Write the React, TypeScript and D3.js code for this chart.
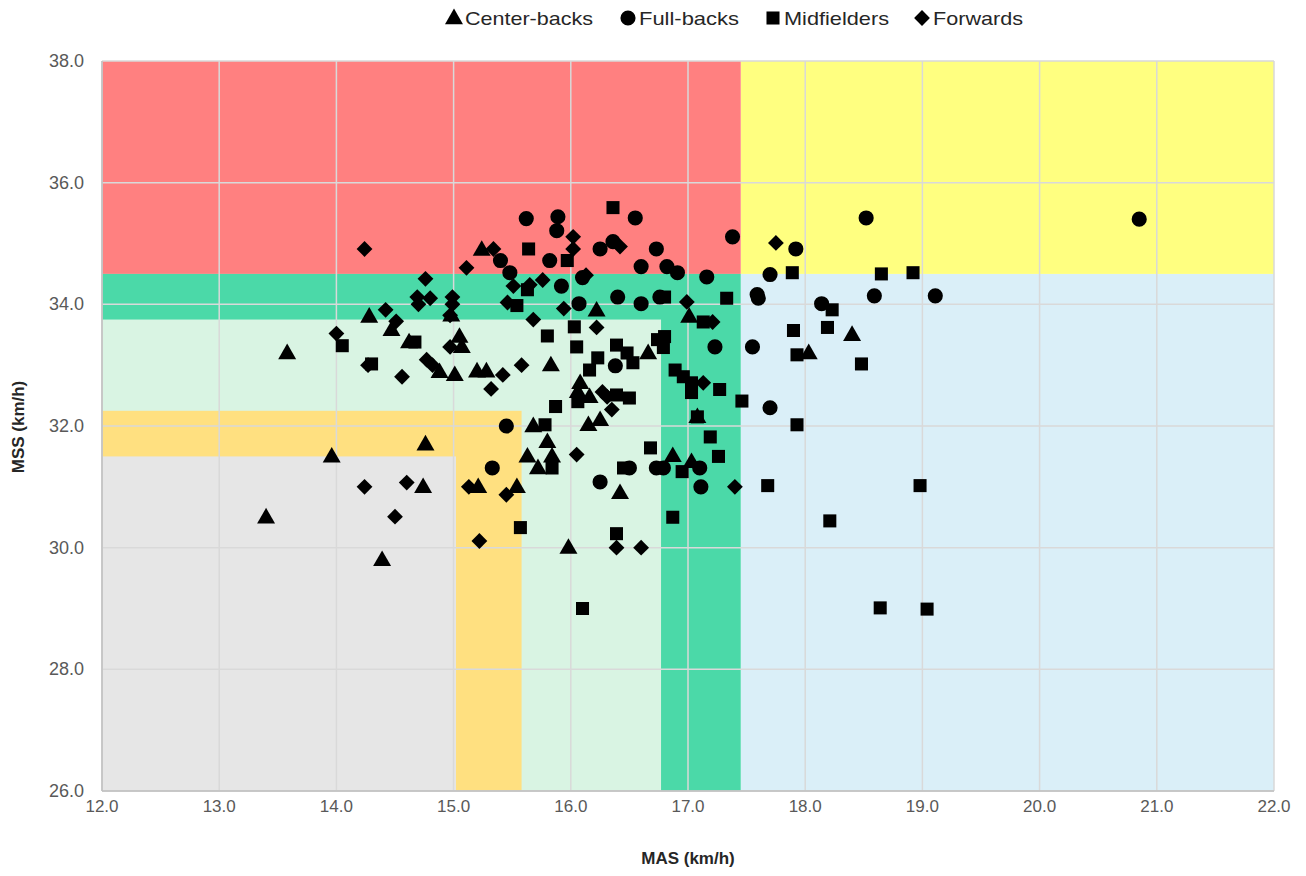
import React from 'react';
import * as d3 from 'd3';

// MAS / MSS values
const centerBacks: [number, number][] = [
  [13.4, 30.5], [13.58, 33.2], [13.96, 31.5], [14.39, 29.8], [14.28, 33.8], [14.47, 33.58],
  [14.76, 31.7], [14.74, 31.0], [14.98, 33.82], [14.62, 33.38], [15.05, 33.47], [15.07, 33.3],
  [14.88, 32.89], [15.01, 32.84], [15.2, 32.9], [15.28, 32.9], [15.24, 34.9], [15.83, 33.0],
  [16.22, 33.9], [15.68, 32.0], [15.8, 31.74], [15.63, 31.5], [15.84, 31.5], [15.72, 31.31],
  [15.21, 31.0], [15.54, 31.0], [15.98, 30.0], [16.08, 32.71], [16.06, 32.56], [16.16, 32.48],
  [16.15, 32.02], [16.25, 32.1], [16.42, 30.9], [16.66, 33.2], [17.01, 33.8], [17.08, 32.15],
  [16.87, 31.51], [17.03, 31.41], [18.03, 33.2], [18.4, 33.5],
];

const fullBacks: [number, number][] = [
  [15.62, 35.41], [15.89, 35.44], [15.88, 35.21], [16.55, 35.42], [16.25, 34.91], [16.36, 35.03],
  [16.73, 34.91], [15.4, 34.72], [15.82, 34.72], [16.6, 34.62], [16.82, 34.62], [16.91, 34.52],
  [15.48, 34.52], [16.1, 34.44], [17.16, 34.45], [17.38, 35.11], [15.92, 34.3], [16.07, 34.01],
  [16.4, 34.12], [16.6, 34.01], [16.76, 34.12], [17.23, 33.3], [17.55, 33.3], [17.59, 34.16],
  [17.6, 34.1], [17.7, 34.49], [17.92, 34.91], [18.52, 35.42], [18.59, 34.14], [19.11, 34.14],
  [18.14, 34.01], [17.7, 32.3], [20.85, 35.4], [15.45, 32.0], [15.33, 31.31], [16.25, 31.08],
  [16.5, 31.31], [16.73, 31.31], [16.79, 31.31], [17.1, 31.31], [17.11, 31.0], [16.38, 32.99],
];

const midfielders: [number, number][] = [
  [16.36, 35.59], [15.64, 34.91], [15.97, 34.72], [15.63, 34.24], [15.54, 33.98], [15.8, 33.48],
  [16.03, 33.63], [16.05, 33.3], [14.05, 33.32], [14.67, 33.38], [14.3, 33.02], [16.8, 34.12],
  [17.33, 34.1], [16.16, 32.92], [16.23, 33.12], [16.39, 33.33], [16.48, 33.2], [16.53, 33.04],
  [16.74, 33.42], [16.8, 33.47], [16.79, 33.29], [17.13, 33.71], [16.89, 32.92], [16.96, 32.81],
  [17.03, 32.71], [17.03, 32.55], [17.27, 32.6], [17.46, 32.41], [16.06, 32.4], [16.39, 32.51],
  [16.5, 32.46], [15.87, 32.32], [15.78, 32.02], [17.08, 32.15], [17.19, 31.82], [17.26, 31.5],
  [16.68, 31.64], [15.84, 31.31], [15.57, 30.33], [16.45, 31.31], [16.95, 31.25], [16.87, 30.5],
  [16.39, 30.23], [16.1, 29.0], [17.89, 34.52], [18.65, 34.5], [18.92, 34.52], [18.23, 33.91],
  [17.9, 33.57], [18.19, 33.62], [17.93, 33.17], [18.48, 33.02], [17.93, 32.02], [17.68, 31.02],
  [18.98, 31.02], [18.21, 30.44], [18.64, 29.01], [19.04, 28.99],
];

const forwards: [number, number][] = [
  [14.24, 34.91], [15.34, 34.91], [16.02, 35.11], [16.02, 34.91], [16.42, 34.95], [15.11, 34.6],
  [16.13, 34.48], [14.76, 34.42], [14.69, 34.12], [14.8, 34.1], [14.7, 34.0], [14.99, 34.12],
  [14.99, 34.0], [14.97, 33.82], [15.51, 34.3], [15.65, 34.32], [15.76, 34.4], [15.46, 34.03],
  [15.94, 33.93], [16.22, 33.62], [15.68, 33.75], [14.42, 33.91], [14.51, 33.72], [14.0, 33.52],
  [14.97, 33.3], [14.27, 33.0], [14.77, 33.09], [14.82, 33.0], [14.56, 32.81], [15.42, 32.84],
  [15.32, 32.61], [15.58, 33.0], [16.99, 34.04], [17.21, 33.71], [17.13, 32.71], [16.27, 32.56],
  [16.31, 32.48], [16.35, 32.27], [16.05, 31.53], [14.24, 31.0], [14.6, 31.07], [14.5, 30.51],
  [15.13, 31.0], [15.45, 30.87], [15.22, 30.11], [16.39, 30.0], [16.6, 30.0], [17.4, 31.0],
  [17.75, 35.01],
];

// background zones: [x0, x1, y0, y1, colour], drawn outermost first
const zones: [number, number, number, number, string][] = [
  [17.45, 22, 26, 34.5, '#daeff8'],
  [17.45, 22, 34.5, 38, '#ffff80'],
  [12, 17.45, 34.5, 38, '#ff8080'],
  [12, 17.45, 26, 34.5, '#4bd9a8'],
  [12, 16.77, 26, 33.75, '#d9f4e3'],
  [12, 15.58, 26, 32.25, '#ffe080'],
  [12, 15.02, 26, 31.5, '#e6e6e6'],
];

const xTicks = d3.range(12, 22.01, 1);
const yTicks = d3.range(26, 38.01, 2);

const series = [
  { name: 'Center-backs', data: centerBacks, shape: 'triangle' },
  { name: 'Full-backs', data: fullBacks, shape: 'circle' },
  { name: 'Midfielders', data: midfielders, shape: 'square' },
  { name: 'Forwards', data: forwards, shape: 'diamond' },
];

const W = 1306, H = 876;
const left = 102, right = 1274, top = 61, bottom = 791;

const x = d3.scaleLinear().domain([12, 22]).range([left, right]);
const y = d3.scaleLinear().domain([26, 38]).range([bottom, top]);

const sym = {
  triangle: d3.symbol().type(d3.symbolTriangle).size(140)(),
  circle: d3.symbol().type(d3.symbolCircle).size(180)(),
  square: d3.symbol().type(d3.symbolSquare).size(170)(),
  diamond: d3.symbol().type(d3.symbolSquare).size(125)(),
};

function Marker({ shape, cx, cy }: { shape: string; cx: number; cy: number }) {
  const rot = shape === 'diamond' ? ' rotate(45)' : '';
  const dy = shape === 'triangle' ? 1 : 0;
  return <path d={(sym as any)[shape]} transform={`translate(${cx},${cy + dy})${rot}`} fill="#000" />;
}

// legend marker centres and text widths, as in the reference
const legendX = [454, 628, 773, 922];
const legendW = [128, 100, 105, 90];

export default function App() {
  const font = '"Liberation Sans", Arial, sans-serif';
  return (
    <svg width={W} height={H} style={{ position: 'absolute', left: 0, top: 0, background: '#fff' }} fontFamily={font}>
      {zones.map(([x0, x1, y0, y1, c], i) => (
        <rect key={i} x={x(x0)} y={y(y1)} width={x(x1) - x(x0)} height={y(y0) - y(y1)} fill={c} />
      ))}
      {xTicks.map((t) => (
        <line key={'gx' + t} x1={x(t)} x2={x(t)} y1={top} y2={bottom} stroke="#d9d9d9" strokeWidth={1.5} />
      ))}
      {yTicks.map((t) => (
        <line key={'gy' + t} x1={left} x2={right} y1={y(t)} y2={y(t)} stroke="#d9d9d9" strokeWidth={1.5} />
      ))}
      <line x1={left} x2={left} y1={top} y2={bottom} stroke="#bfbfbf" strokeWidth={1.5} />
      <line x1={left} x2={right} y1={bottom} y2={bottom} stroke="#bfbfbf" strokeWidth={1.5} />

      {yTicks.map((t) => (
        <text key={'ly' + t} x={84} y={y(t) + 6} textAnchor="end" fontSize={18} fill="#595959">
          {t.toFixed(1)}
        </text>
      ))}
      {xTicks.map((t) => (
        <text key={'lx' + t} x={x(t)} y={812} textAnchor="middle" fontSize={17} fill="#595959">
          {t.toFixed(1)}
        </text>
      ))}

      <text x={688} y={864} textAnchor="middle" fontSize={17} fontWeight="bold" fill="#262626">
        MAS (km/h)
      </text>
      <text transform="translate(24,427) rotate(-90)" textAnchor="middle" fontSize={17} fontWeight="bold" fill="#262626">
        MSS (km/h)
      </text>

      {series.map((s) =>
        s.data.map(([a, b], i) => <Marker key={s.name + i} shape={s.shape} cx={x(a)} cy={y(b)} />)
      )}

      {series.map((s, i) => (
        <g key={'lg' + s.name}>
          <Marker shape={s.shape} cx={legendX[i]} cy={18} />
          <text x={legendX[i] + 11} y={25} fontSize={19} fill="#262626" textLength={legendW[i]} lengthAdjust="spacingAndGlyphs">
            {s.name}
          </text>
        </g>
      ))}
    </svg>
  );
}
